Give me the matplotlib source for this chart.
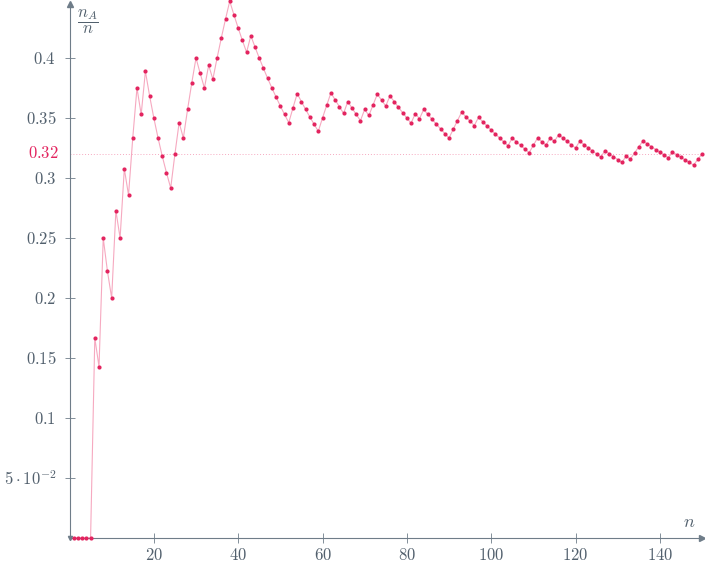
import numpy as np
import matplotlib

matplotlib.use('Agg')
import matplotlib.pyplot as plt

plt.rcParams['mathtext.fontset'] = 'cm'
plt.rcParams['font.family'] = ['DejaVu Serif']

# number of trials
n_values = list(range(1, 151))
# cumulative count of event A after n trials
n_A = [0, 0, 0, 0, 0, 1, 1, 2, 2, 2,
       3, 3, 4, 4, 5, 6, 6, 7, 7, 7,
       7, 7, 7, 7, 8, 9, 9, 10, 11, 12,
       12, 12, 13, 13, 14, 15, 16, 17, 17, 17,
       17, 17, 18, 18, 18, 18, 18, 18, 18, 18,
       18, 18, 19, 20, 20, 20, 20, 20, 20, 21,
       22, 23, 23, 23, 23, 24, 24, 24, 24, 25,
       25, 26, 27, 27, 27, 28, 28, 28, 28, 28,
       28, 29, 29, 30, 30, 30, 30, 30, 30, 30,
       31, 32, 33, 33, 33, 33, 34, 34, 34, 34,
       34, 34, 34, 34, 35, 35, 35, 35, 35, 36,
       37, 37, 37, 38, 38, 39, 39, 39, 39, 39,
       40, 40, 40, 40, 40, 40, 41, 41, 41, 41,
       41, 42, 42, 43, 44, 45, 45, 45, 45, 45,
       45, 45, 46, 46, 46, 46, 46, 46, 47, 48]
ref_value = 0.32

x_ticks = [20, 40, 60, 80, 100, 120, 140]
y_ticks = [0.05, 0.1, 0.15, 0.2, 0.25, 0.3, 0.35, 0.4]
y_tick_labels = [r'$5\cdot10^{-2}$', r'$0.1$', r'$0.15$', r'$0.2$',
                 r'$0.25$', r'$0.3$', r'$0.35$', r'$0.4$']

axis_col = '#6f7d89'
text_col = '#52606d'
dot_col = '#e3245f'
line_col = '#f6a9c0'

n = np.array(n_values)
freq = np.array(n_A) / n

fig = plt.figure(figsize=(7.05, 5.64), dpi=100)
ax = fig.add_axes([69.5 / 705, 26 / 564, 632.5 / 705, 534 / 564])
ax.set_xlim(0, 150)
ax.set_ylim(0, 0.445)

ax.axhline(ref_value, color=line_col, lw=0.7, ls=(0, (1, 2)), zorder=1)
ax.plot(n, freq, color=line_col, lw=0.8, zorder=2, clip_on=False)
ax.plot(n, freq, 'o', color=dot_col, ms=3.0, mew=0, zorder=3, clip_on=False)

for side in ('top', 'right'):
    ax.spines[side].set_visible(False)
for side in ('left', 'bottom'):
    ax.spines[side].set_color(axis_col)
    ax.spines[side].set_linewidth(0.8)

# arrow heads
ax.plot(1, 0, '>', color=axis_col, ms=4, transform=ax.transAxes, clip_on=False)
ax.plot(0, 1, '^', color=axis_col, ms=4, transform=ax.transAxes, clip_on=False)
ax.plot(0, 0, 'v', color=axis_col, ms=3, transform=ax.transAxes, clip_on=False)

ax.set_xticks(x_ticks)
ax.set_xticklabels([rf'${v}$' for v in x_ticks])
ax.set_yticks(y_ticks)
ax.set_yticklabels(y_tick_labels)
ax.tick_params(direction='inout', length=7, width=0.6, color=axis_col,
               labelcolor=text_col, labelsize=12)
ax.tick_params(axis='y', pad=6)
ax.tick_params(axis='x', pad=3)

ax.text(-2.5, ref_value, r'$0.32$', color=dot_col, fontsize=12,
        ha='right', va='center')

ax.text(147, 0.006, r'$n$', color=text_col, fontsize=13, ha='center', va='bottom')
ax.text(4.4, 0.43, r'$\dfrac{n_A}{n}$', color=text_col, fontsize=12,
        ha='center', va='center')

fig.savefig('out.png', dpi=100)
